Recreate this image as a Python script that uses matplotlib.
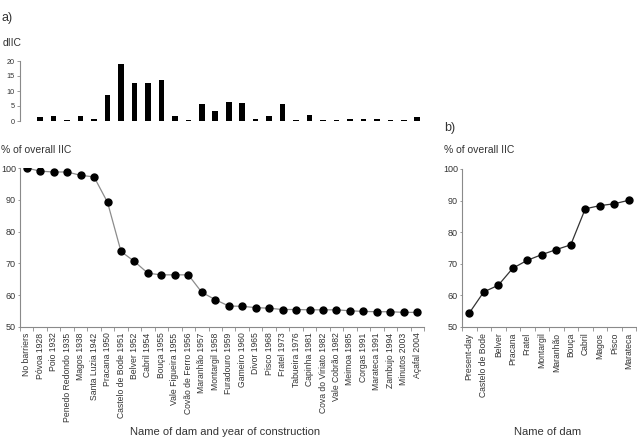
import matplotlib
matplotlib.use("Agg")
import matplotlib.pyplot as plt
import numpy as np

plt.rcParams['font.family'] = ['Liberation Sans', 'DejaVu Sans']

dams_a = ["No barriers", "Póvoa 1928", "Poio 1932", "Penedo Redondo 1935", "Magos 1938",
          "Santa Luzia 1942", "Pracana 1950", "Castelo de Bode 1951", "Belver 1952",
          "Cabril 1954", "Bouça 1955", "Vale Figueira 1955", "Covão de Ferro 1956",
          "Maranhão 1957", "Montargil 1958", "Furadouro 1959", "Gameiro 1960",
          "Divor 1965", "Pisco 1968", "Fratel 1973", "Tabueira 1976", "Capinha 1981",
          "Cova do Viriato 1982", "Vale Cobrão 1982", "Meimoa 1985", "Corgas 1991",
          "Marateca 1991", "Zambujo 1994", "Minutos 2003", "Açafal 2004"]
dIIC = [np.nan, 1.3, 1.6, 0.2, 1.6, 0.7, 8.5, 18.9, 12.5, 12.5, 13.6, 1.6, 0.4, 5.5, 3.4,
        6.4, 6.1, 0.7, 1.6, 5.5, 0.4, 2.0, 0.2, 0.4, 0.8, 0.8, 0.5, 0.4, 0.4, 1.2]
pct_a = [100.0, 99.0, 98.75, 98.75, 97.7, 97.2, 89.2, 73.75, 70.6, 66.9, 66.4, 66.4, 66.4,
         60.9, 58.6, 56.6, 56.5, 56.1, 55.9, 55.5, 55.5, 55.4, 55.4, 55.4, 55.1, 54.9,
         54.8, 54.8, 54.6, 54.6]

dams_b = ["Present-day", "Castelo de Bode", "Belver", "Pracana", "Fratel", "Montargil",
          "Maranhão", "Bouça", "Cabril", "Magos", "Pisco", "Marateca"]
pct_b = [54.4, 61.1, 63.2, 68.6, 71.1, 72.9, 74.5, 76.0, 87.4, 88.4, 89.0, 90.1]

W, H = 637, 440
fig = plt.figure(figsize=(W / 100, H / 100), dpi=100)

def px_axes(x0, y0, x1, y1):
    return fig.add_axes([x0 / W, 1 - y1 / H, (x1 - x0) / W, (y1 - y0) / H])

spine_c = '#8a8a8a'
txt_c = '#333333'

def style(ax, bottom=True):
    for s in ['top', 'right']:
        ax.spines[s].set_visible(False)
    ax.spines['left'].set_color(spine_c)
    ax.spines['bottom'].set_color(spine_c)
    ax.spines['left'].set_linewidth(0.8)
    ax.spines['bottom'].set_linewidth(0.8)
    ax.spines['bottom'].set_visible(bottom)

# ---- panel a bars
axb = px_axes(20, 61, 424, 121)
xa = np.arange(len(dams_a))
axb.bar(xa, dIIC, width=0.42, color='black')
axb.set_xlim(-0.5, len(dams_a) - 0.5)
axb.set_ylim(0, 20)
axb.set_yticks([0, 5, 10, 15, 20])
style(axb, bottom=False)
axb.set_xticks([])
axb.tick_params(axis='y', labelsize=5.2, length=2, width=0.6, color=spine_c,
                labelcolor=txt_c, pad=2)

# ---- panel a line
axa = px_axes(20, 168, 424, 327)
axa.plot(xa, pct_a, color='#8c8c8c', lw=0.9, marker='o', ms=5,
         mfc='black', mec='black', zorder=3)
axa.set_xlim(-0.5, len(dams_a) - 0.5)
axa.set_ylim(50, 100)
axa.set_yticks(np.arange(50, 101, 10))
style(axa)
axa.set_xticks(np.arange(len(dams_a) + 1) - 0.5)
axa.set_xticklabels([])
axa.set_xticks(xa, minor=True)
axa.set_xticklabels(dams_a, minor=True, rotation=90, fontsize=6.2, color=txt_c)
axa.tick_params(axis='x', which='major', length=3, width=0.6, color=spine_c)
axa.tick_params(axis='x', which='minor', length=0, pad=4)
axa.tick_params(axis='y', labelsize=6.5, length=1.5, width=0.6, color=spine_c,
                labelcolor=txt_c, pad=1.5)

# ---- panel b line
axc = px_axes(462, 169, 636, 327)
xb = np.arange(len(dams_b))
axc.plot(xb, pct_b, color='#333333', lw=0.9, marker='o', ms=5,
         mfc='black', mec='black', zorder=3)
axc.set_xlim(-0.5, len(dams_b) - 0.5)
axc.set_ylim(50, 100)
axc.set_yticks(np.arange(50, 101, 10))
style(axc)
axc.set_xticks(np.arange(len(dams_b) + 1) - 0.5)
axc.set_xticklabels([])
axc.set_xticks(xb, minor=True)
axc.set_xticklabels(dams_b, minor=True, rotation=90, fontsize=6.2, color=txt_c)
axc.tick_params(axis='x', which='major', length=3, width=0.6, color=spine_c)
axc.tick_params(axis='x', which='minor', length=0, pad=4)
axc.tick_params(axis='y', labelsize=6.5, length=1.5, width=0.6, color=spine_c,
                labelcolor=txt_c, pad=1.5)

# ---- texts
def ftext(x, y, s, size, ha='left'):
    fig.text(x / W, 1 - y / H, s, fontsize=size, color=txt_c, ha=ha, va='center')

ftext(2, 18, "a)", 9)
ftext(3, 43, "dIIC", 7.5)
ftext(1, 150, "% of overall IIC", 7.5)
ftext(444, 128, "b)", 9)
ftext(444, 150, "% of overall IIC", 7.5)
ftext(225, 432, "Name of dam and year of construction", 8, ha='center')
ftext(548, 432, "Name of dam", 8, ha='center')

fig.savefig("out.png", dpi=100)
